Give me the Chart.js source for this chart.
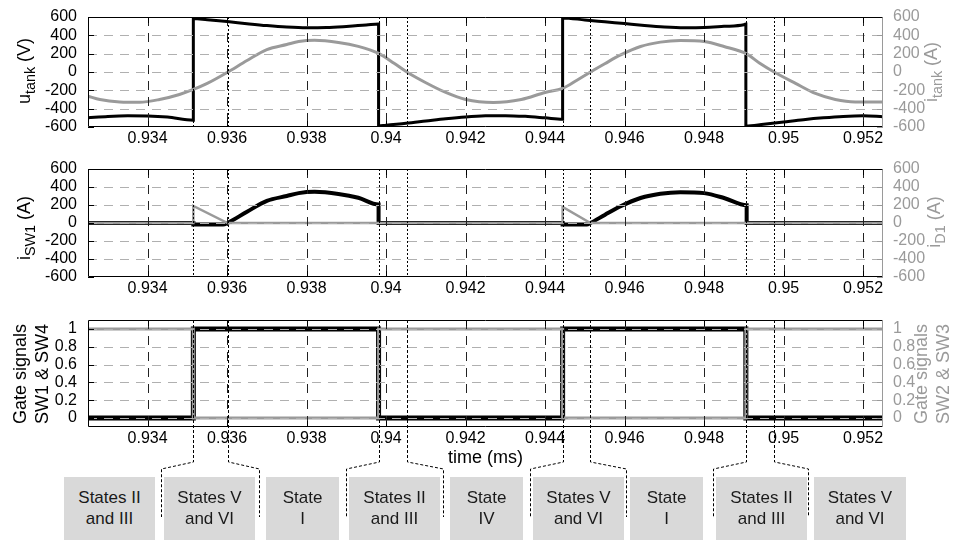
<!DOCTYPE html>
<html>
<head>
<meta charset="utf-8">
<script src="https://cdn.jsdelivr.net/npm/chart.js@4.4.1/dist/chart.umd.min.js"></script>
<style>
	body { margin: 0; width: 954px; height: 540px; position: relative; overflow: hidden; background: #fff; font-family: "Liberation Sans", Arial, sans-serif; }
	.panel { position: absolute; left: 0; width: 954px; }
	.ytitle { position: absolute; transform: translate(-50%, -50%) rotate(-90deg); white-space: nowrap; font-size: 18px; line-height: 22px; text-align: center; color: #000; }
	.ytitle.right { color: #9a9a9a; }
	.ytitle sub { font-size: 0.8em; vertical-align: -0.35em; line-height: 0; }
	.state { position: absolute; top: 477px; height: 63px; box-sizing: border-box; padding-top: 10px; background: #d9d9d9; text-align: center; font-size: 17px; line-height: 21px; color: #1a1a1a; }
</style>
</head>
<body>
<div class="panel" style="top:0;height:150px"><canvas id="tankChart" width="954" height="150"></canvas></div>
<div class="panel" style="top:150px;height:150px"><canvas id="switchChart" width="954" height="150"></canvas></div>
<div class="panel" style="top:300px;height:240px"><canvas id="gateChart" width="954" height="240"></canvas></div>

<div class="ytitle" style="left:24px;top:71px">u<sub>tank</sub> (V)</div>
<div class="ytitle right" style="left:931px;top:72px">i<sub>tank</sub> (A)</div>
<div class="ytitle" style="left:24px;top:228px">i<sub>SW1</sub> (A)</div>
<div class="ytitle right" style="left:934px;top:222px">i<sub>D1</sub> (A)</div>
<div class="ytitle" style="left:31px;top:374px">Gate signals<br>SW1 &amp; SW4</div>
<div class="ytitle right" style="left:932px;top:374px">Gate signals<br>SW2 &amp; SW3</div>

<script>
const timeTicks = [0.934, 0.936, 0.938, 0.94, 0.942, 0.944, 0.946, 0.948, 0.95, 0.952];
const ampTicks = [-600, -400, -200, 0, 200, 400, 600];
const gateTicks = [0, 0.2, 0.4, 0.6, 0.8, 1];

// switching instants and current zero crossings (ms)
const eventTimes = [0.93515, 0.93601, 0.93981, 0.94052, 0.94444, 0.94514, 0.94905, 0.94976];

// tank voltage
const uTankTime = [0.9325, 0.933, 0.9335, 0.934, 0.9345, 0.93515, 0.93515, 0.9355, 0.936, 0.9365, 0.937, 0.9375, 0.938, 0.9385, 0.939, 0.9395, 0.93981, 0.93981, 0.94, 0.9405, 0.941, 0.9415, 0.942, 0.9425, 0.943, 0.9435, 0.944, 0.94444, 0.94444, 0.945, 0.9455, 0.946, 0.9465, 0.947, 0.9475, 0.948, 0.9485, 0.949, 0.94905, 0.94905, 0.9495, 0.95, 0.9505, 0.951, 0.9515, 0.952, 0.9525];
const uTankVolts = [-500, -485, -478, -480, -492, -525, 585, 570, 550, 527, 506, 490, 482, 485, 497, 512, 525, -590, -580, -560, -535, -510, -490, -478, -476, -484, -500, -515, 590, 568, 548, 528, 508, 492, 484, 486, 498, 515, 525, -590, -570, -545, -520, -500, -485, -478, -488];

// tank current
const iTankTime = [0.9325, 0.9328, 0.9333, 0.9338, 0.9343, 0.9348, 0.93515, 0.9355, 0.936, 0.9365, 0.937, 0.9375, 0.9378, 0.9382, 0.9388, 0.9393, 0.9398, 0.9402, 0.94052, 0.941, 0.9415, 0.942, 0.9427, 0.9434, 0.944, 0.94444, 0.9448, 0.94514, 0.9455, 0.9459, 0.9464, 0.9469, 0.9474, 0.948, 0.9485, 0.94907, 0.9494, 0.94976, 0.9503, 0.9508, 0.9513, 0.9518, 0.9525];
const iTankAmps = [-263, -300, -326, -330, -300, -245, -190, -124, -5, 125, 245, 300, 332, 346, 323, 280, 205, 95, 0, -117, -223, -300, -333, -300, -223, -179, -90, 0, 90, 186, 278, 326, 343, 332, 278, 197, 95, 0, -124, -234, -300, -326, -326];

// switch SW1 and diode D1 currents
const iSw1Time = [0.9325, 0.93515, 0.93515, 0.9359, 0.93601, 0.9365, 0.937, 0.9375, 0.9378, 0.9382, 0.9388, 0.9393, 0.93981, 0.93981, 0.94444, 0.94444, 0.94505, 0.94514, 0.9455, 0.9459, 0.9464, 0.9469, 0.9474, 0.948, 0.9485, 0.94907, 0.94907, 0.9525];
const iSw1Amps = [0, 0, -18, -18, 0, 125, 245, 300, 332, 346, 323, 280, 205, 0, 0, -18, -18, 0, 90, 186, 278, 326, 343, 332, 278, 197, 0, 0];
const iD1Time = [0.9325, 0.93515, 0.93515, 0.93601, 0.94444, 0.94444, 0.94514, 0.9525];
const iD1Amps = [0, 0, 190, 0, 0, 179, 0, 0];

// gate signals
const gateTime = [0.9325, 0.93515, 0.93515, 0.93981, 0.93981, 0.94444, 0.94444, 0.94905, 0.94905, 0.9525];
const gateSw14 = [0, 0, 1, 1, 0, 0, 1, 1, 0, 0];
const gateSw23 = [1, 1, 0, 0, 1, 1, 0, 0, 1, 1];

const stateLabels = [
	["States II", "and III"], ["States V", "and VI"], ["State", "I"],
	["States II", "and III"], ["State", "IV"], ["States V", "and VI"],
	["State", "I"], ["States II", "and III"], ["States V", "and VI"],
];

// box layout (px)
const boxLeft = [64, 164, 266, 349, 450, 533, 630, 716, 814];
const boxRight = [155, 255, 339, 440, 523, 624, 703, 807, 906];
const dropX = [161, 259, 346, 443, 530, 626, 713, 808];

const GRAY = "#9a9a9a";
Chart.defaults.font.family = '"Liberation Sans", Arial, sans-serif';
Chart.defaults.font.size = 16;
Chart.defaults.color = "#000";

const pts = (xs, ys) => xs.map((x, i) => ({ x: x, y: ys[i] }));

function seg(ctx, x1, y1, x2, y2) {
	ctx.beginPath();
	ctx.moveTo(x1, y1);
	ctx.lineTo(x2, y2);
	ctx.stroke();
}

// grid on top of the data, inside ticks, frame and the switching markers
const matlabAxes = {
	id: "matlabAxes",
	afterDatasetsDraw(chart, args, opts) {
		const { ctx, chartArea: a, scales } = chart;
		const x = scales.x, yl = scales.y, yr = scales.y2;
		ctx.save();
		ctx.lineWidth = 1;

		ctx.setLineDash([9, 7]);
		ctx.strokeStyle = "#b0b0b0";
		yr.ticks.forEach((t) => {
			const py = Math.round(yr.getPixelForValue(t.value)) + 0.5;
			if (py < a.top + 2 || py > a.bottom - 2) return;
			seg(ctx, a.left, py, a.right, py);
		});
		ctx.strokeStyle = "#222";
		x.ticks.forEach((t) => {
			const px = Math.round(x.getPixelForValue(t.value)) + 0.5;
			seg(ctx, px, a.top, px, a.bottom);
		});

		ctx.setLineDash([2, 2]);
		ctx.strokeStyle = "#000";
		eventTimes.forEach((t, i) => {
			const px = Math.round(x.getPixelForValue(t)) + 0.5;
			if (opts.connectors) {
				ctx.setLineDash([3, 2]);
				ctx.beginPath();
				ctx.moveTo(px, a.top);
				ctx.lineTo(px, opts.bendTop);
				ctx.lineTo(dropX[i] + 0.5, opts.bendBottom);
				ctx.lineTo(dropX[i] + 0.5, opts.dropEnd);
				ctx.stroke();
			} else {
				seg(ctx, px, a.top, px, a.bottom);
			}
		});

		ctx.setLineDash([]);
		ctx.strokeStyle = "#000";
		x.ticks.forEach((t) => {
			const px = Math.round(x.getPixelForValue(t.value)) + 0.5;
			seg(ctx, px, a.bottom, px, a.bottom - 6);
			seg(ctx, px, a.top, px, a.top + 6);
		});
		yl.ticks.forEach((t) => {
			const py = Math.round(yl.getPixelForValue(t.value)) + 0.5;
			seg(ctx, a.left, py, a.left + 6, py);
		});
		ctx.strokeStyle = GRAY;
		yr.ticks.forEach((t) => {
			const py = Math.round(yr.getPixelForValue(t.value)) + 0.5;
			seg(ctx, a.right - 6, py, a.right, py);
		});

		const l = Math.round(a.left) + 0.5, r = Math.round(a.right) - 0.5;
		const tp = Math.round(a.top) + 0.5, bt = Math.round(a.bottom) - 0.5;
		ctx.strokeStyle = "#000";
		ctx.beginPath();
		ctx.moveTo(r, tp);
		ctx.lineTo(l, tp);
		ctx.lineTo(l, bt);
		ctx.lineTo(r, bt);
		ctx.stroke();
		ctx.strokeStyle = GRAY;
		seg(ctx, r, tp, r, bt);
		ctx.restore();
	},
};

function yAxis(pos, ticks, min, max, color, width) {
	return {
		type: "linear",
		position: pos,
		min: min,
		max: max,
		grid: { display: false },
		border: { display: false },
		afterBuildTicks: (s) => { s.ticks = ticks.map((v) => ({ value: v })); },
		afterFit: (s) => { s.width = width; },
		ticks: {
			color: color,
			padding: pos === "left" ? 3 : 2,
			autoSkip: false,
			callback: (v) => String(v),
		},
	};
}

function makeChart(id, datasets, yTicks, yMin, yMax, padTop, xHeight, extra) {
	const xScale = {
		type: "linear",
		min: 0.9325,
		max: 0.9525,
		grid: { display: false, drawTicks: false },
		border: { display: false },
		afterBuildTicks: (s) => { s.ticks = timeTicks.map((v) => ({ value: v })); },
		afterFit: (s) => { s.height = xHeight; },
		ticks: { padding: 2, autoSkip: false, maxRotation: 0, callback: (v) => String(v) },
	};
	if (extra.title) xScale.title = extra.title;
	return new Chart(document.getElementById(id), {
		type: "line",
		data: { datasets: datasets },
		options: {
			responsive: false,
			animation: false,
			devicePixelRatio: 1,
			layout: { padding: { top: padTop, left: 0, right: 0, bottom: 0 } },
			elements: { point: { radius: 0 } },
			plugins: {
				legend: { display: false },
				tooltip: { enabled: false },
				matlabAxes: extra.axes || {},
			},
			scales: {
				x: xScale,
				y: yAxis("left", yTicks, yMin, yMax, "#000", 88),
				y2: yAxis("right", yTicks, yMin, yMax, GRAY, 71),
			},
		},
		plugins: [matlabAxes],
	});
}

makeChart("tankChart", [
	{ label: "i_tank", yAxisID: "y2", data: pts(iTankTime, iTankAmps), borderColor: GRAY, borderWidth: 3, cubicInterpolationMode: "monotone", order: 0 },
	{ label: "u_tank", yAxisID: "y", data: pts(uTankTime, uTankVolts), borderColor: "#000", borderWidth: 3, cubicInterpolationMode: "monotone", order: 1 },
], ampTicks, -600, 600, 17, 23, {});

makeChart("switchChart", [
	{ label: "i_D1", yAxisID: "y2", data: pts(iD1Time, iD1Amps), borderColor: GRAY, borderWidth: 2.5, tension: 0, order: 0 },
	{ label: "i_SW1", yAxisID: "y", data: pts(iSw1Time, iSw1Amps), borderColor: "#000", borderWidth: 4, cubicInterpolationMode: "monotone", order: 1 },
], ampTicks, -600, 600, 19, 23, {});

makeChart("gateChart", [
	{ label: "SW2 & SW3", yAxisID: "y2", data: pts(gateTime, gateSw23), borderColor: GRAY, borderWidth: 3, tension: 0, order: 0 },
	{ label: "SW1 & SW4", yAxisID: "y", data: pts(gateTime, gateSw14), borderColor: "#000", borderWidth: 5, tension: 0, order: 1 },
], gateTicks, -0.1, 1.1, 20, 113, {
	title: { display: true, text: "time (ms)", color: "#000", font: { size: 18 }, padding: { top: 0, bottom: 71 } },
	axes: { connectors: true, bendTop: 162, bendBottom: 169, dropEnd: 217 },
});

stateLabels.forEach((lines, i) => {
	const d = document.createElement("div");
	d.className = "state";
	d.style.left = boxLeft[i] + "px";
	d.style.width = boxRight[i] - boxLeft[i] + "px";
	d.innerHTML = lines.join("<br>");
	document.body.appendChild(d);
});
</script>
</body>
</html>
